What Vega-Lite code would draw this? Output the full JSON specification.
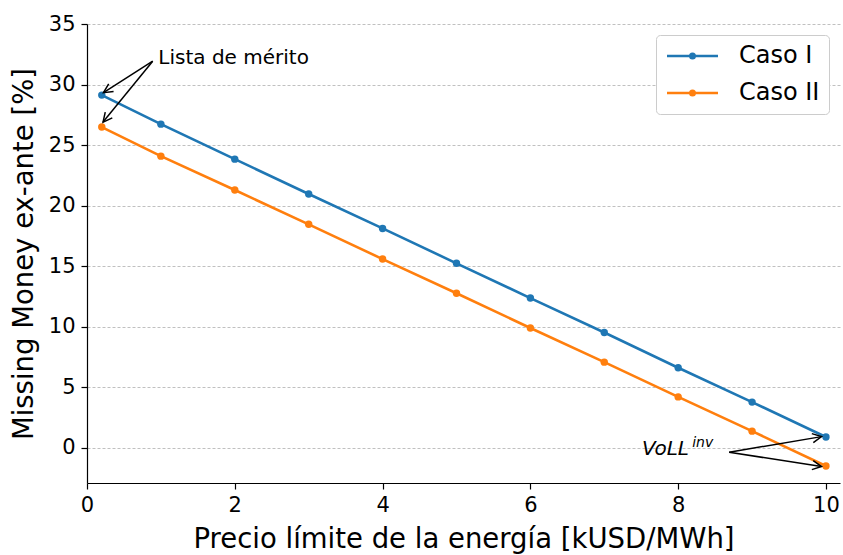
{
  "$schema": "https://vega.github.io/schema/vega-lite/v6.json",
  "width": 753,
  "height": 459,
  "autosize": "none",
  "padding": {"left": 87, "top": 24, "right": 3, "bottom": 72},
  "background": "white",
  "config": {
    "font": "DejaVu Sans",
    "view": {"stroke": null},
    "axis": {
      "labelFont": "DejaVu Sans",
      "titleFont": "DejaVu Sans",
      "labelFontSize": 21,
      "titleFontSize": 27.5,
      "titleFontWeight": "normal",
      "labelColor": "#000000",
      "titleColor": "#000000",
      "domainColor": "#000000",
      "domainWidth": 1.2,
      "tickColor": "#000000",
      "tickSize": 6,
      "tickWidth": 1.2,
      "labelFlush": false
    }
  },
  "datasets": {
    "series": [
      {"precio": 0.2, "mm": 29.13, "caso": "Caso I"},
      {"precio": 1, "mm": 26.73, "caso": "Caso I"},
      {"precio": 2, "mm": 23.84, "caso": "Caso I"},
      {"precio": 3, "mm": 20.96, "caso": "Caso I"},
      {"precio": 4, "mm": 18.12, "caso": "Caso I"},
      {"precio": 5, "mm": 15.24, "caso": "Caso I"},
      {"precio": 6, "mm": 12.37, "caso": "Caso I"},
      {"precio": 7, "mm": 9.53, "caso": "Caso I"},
      {"precio": 8, "mm": 6.62, "caso": "Caso I"},
      {"precio": 9, "mm": 3.78, "caso": "Caso I"},
      {"precio": 10, "mm": 0.9, "caso": "Caso I"},
      {"precio": 0.2, "mm": 26.49, "caso": "Caso II"},
      {"precio": 1, "mm": 24.09, "caso": "Caso II"},
      {"precio": 2, "mm": 21.29, "caso": "Caso II"},
      {"precio": 3, "mm": 18.46, "caso": "Caso II"},
      {"precio": 4, "mm": 15.59, "caso": "Caso II"},
      {"precio": 5, "mm": 12.77, "caso": "Caso II"},
      {"precio": 6, "mm": 9.9, "caso": "Caso II"},
      {"precio": 7, "mm": 7.08, "caso": "Caso II"},
      {"precio": 8, "mm": 4.21, "caso": "Caso II"},
      {"precio": 9, "mm": 1.38, "caso": "Caso II"},
      {"precio": 10, "mm": -1.5, "caso": "Caso II"}
    ],
    "arrows": [
      {"id": "a1", "x0": 0.889, "y0": 31.93, "x1": 0.223, "y1": 29.33},
      {"id": "a2", "x0": 0.889, "y0": 31.93, "x1": 0.217, "y1": 26.9},
      {"id": "a3", "x0": 8.69, "y0": -0.36, "x1": 9.94, "y1": 0.93},
      {"id": "a4", "x0": 8.69, "y0": -0.36, "x1": 9.94, "y1": -1.54}
    ],
    "labels": [
      {"id": "lista", "x": 0.965, "y": 32.2, "text": "Lista de mérito"},
      {"id": "voll", "x": 7.51, "y": -0.58, "text": "VoLL"},
      {"id": "inv", "x": 8.19, "y": 0.06, "text": "inv"}
    ]
  },
  "layer": [
    {
      "data": {"name": "series"},
      "mark": {"type": "line", "strokeWidth": 2.6, "point": {"filled": true, "size": 55, "opacity": 1}},
      "encoding": {
        "x": {
          "field": "precio", "type": "quantitative",
          "scale": {"domain": [0, 10.19], "nice": false, "zero": false},
          "axis": {"values": [0, 2, 4, 6, 8, 10], "format": "d", "grid": false, "title": "Precio límite de la energía [kUSD/MWh]", "labelPadding": 5, "titlePadding": 10}
        },
        "y": {
          "field": "mm", "type": "quantitative",
          "scale": {"domain": [-2.9, 35], "nice": false, "zero": false},
          "axis": {"values": [0, 5, 10, 15, 20, 25, 30, 35], "format": "d", "grid": true, "gridDash": [3, 2], "gridColor": "#b0b0b0", "gridWidth": 0.8, "title": "Missing Money ex-ante [%]", "labelPadding": 6, "titlePadding": 10}
        },
        "color": {
          "field": "caso", "type": "nominal",
          "scale": {"domain": ["Caso I", "Caso II"], "range": ["#1f77b4", "#ff7f0e"]},
          "legend": {
            "title": null,
            "orient": "top-right",
            "offset": 11,
            "labelFontSize": 24,
            "labelFont": "DejaVu Sans",
            "labelColor": "#000000",
            "symbolType": "M-1,0H4.1M1.33,0A0.22,0.22,0,1,0,1.77,0A0.22,0.22,0,1,0,1.33,0Z",
            "symbolSize": 400,
            "symbolStrokeWidth": 2.6,
            "strokeColor": "#cccccc",
            "fillColor": "white",
            "cornerRadius": 4,
            "padding": 9,
            "rowPadding": 13,
            "labelOffset": 50,
            "encode": {"symbols": {"update": {"fill": {"scale": "color", "field": "value"}}}}
          }
        }
      }
    },
    {
      "data": {"name": "arrows"},
      "mark": {"type": "rule", "color": "black", "strokeWidth": 1.5},
      "encoding": {
        "x": {"field": "x0", "type": "quantitative"},
        "y": {"field": "y0", "type": "quantitative"},
        "x2": {"field": "x1"},
        "y2": {"field": "y1"}
      }
    },
    {
      "data": {"name": "arrows"},
      "transform": [{"filter": "datum.id === 'a1'"}],
      "mark": {"type": "point", "shape": "M-1,-0.5L0,0L-1,0.5", "filled": false, "stroke": "black", "strokeWidth": 1.5, "size": 330, "angle": 147.4, "opacity": 1},
      "encoding": {"x": {"field": "x1", "type": "quantitative"}, "y": {"field": "y1", "type": "quantitative"}}
    },
    {
      "data": {"name": "arrows"},
      "transform": [{"filter": "datum.id === 'a2'"}],
      "mark": {"type": "point", "shape": "M-1,-0.5L0,0L-1,0.5", "filled": false, "stroke": "black", "strokeWidth": 1.5, "size": 330, "angle": 129.2, "opacity": 1},
      "encoding": {"x": {"field": "x1", "type": "quantitative"}, "y": {"field": "y1", "type": "quantitative"}}
    },
    {
      "data": {"name": "arrows"},
      "transform": [{"filter": "datum.id === 'a3'"}],
      "mark": {"type": "point", "shape": "M-1,-0.5L0,0L-1,0.5", "filled": false, "stroke": "black", "strokeWidth": 1.5, "size": 330, "angle": 350.4, "opacity": 1},
      "encoding": {"x": {"field": "x1", "type": "quantitative"}, "y": {"field": "y1", "type": "quantitative"}}
    },
    {
      "data": {"name": "arrows"},
      "transform": [{"filter": "datum.id === 'a4'"}],
      "mark": {"type": "point", "shape": "M-1,-0.5L0,0L-1,0.5", "filled": false, "stroke": "black", "strokeWidth": 1.5, "size": 330, "angle": 8.9, "opacity": 1},
      "encoding": {"x": {"field": "x1", "type": "quantitative"}, "y": {"field": "y1", "type": "quantitative"}}
    },
    {
      "data": {"name": "labels"},
      "transform": [{"filter": "datum.id === 'lista'"}],
      "mark": {"type": "text", "align": "left", "baseline": "middle", "fontSize": 20, "color": "black"},
      "encoding": {"x": {"field": "x", "type": "quantitative"}, "y": {"field": "y", "type": "quantitative"}, "text": {"field": "text"}}
    },
    {
      "data": {"name": "labels"},
      "transform": [{"filter": "datum.id === 'voll'"}],
      "mark": {"type": "text", "align": "left", "baseline": "alphabetic", "fontSize": 20, "fontStyle": "italic", "color": "black"},
      "encoding": {"x": {"field": "x", "type": "quantitative"}, "y": {"field": "y", "type": "quantitative"}, "text": {"field": "text"}}
    },
    {
      "data": {"name": "labels"},
      "transform": [{"filter": "datum.id === 'inv'"}],
      "mark": {"type": "text", "align": "left", "baseline": "alphabetic", "fontSize": 14, "fontStyle": "italic", "color": "black"},
      "encoding": {"x": {"field": "x", "type": "quantitative"}, "y": {"field": "y", "type": "quantitative"}, "text": {"field": "text"}}
    }
  ]
}
